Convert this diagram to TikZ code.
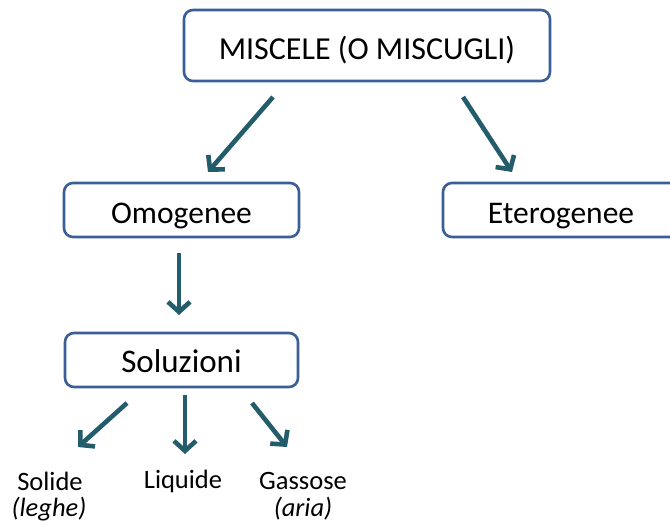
\documentclass[tikz,border=0pt]{standalone}
\usepackage{fontspec}
\setmainfont{Carlito}
\usetikzlibrary{arrows.meta}
\definecolor{boxblue}{HTML}{3A5E96}
\definecolor{arrteal}{HTML}{235C6A}
\tikzset{
  box/.style={draw=boxblue, line width=2.6pt, rounded corners=9pt, fill=white, inner sep=0pt, text depth=0pt},
  leaf/.style={inner sep=0pt, font=\fontsize{26.5}{28}\selectfont, align=center},
  arr/.style={draw=arrteal, line width=4.6pt, -{Straight Barb[length=10pt,width=22pt,line width=4.6pt]}}
}
\begin{document}
\begin{tikzpicture}[x=1pt,y=-1pt]
\useasboundingbox (0,0) rectangle (670,524);
\node[box, minimum width=366pt, minimum height=71pt, text height=29pt, font=\fontsize{32}{36}\selectfont] (mis) at (367,45.5) {MISCELE (O MISCUGLI)};
\node[box, minimum width=235pt, minimum height=54pt, text height=26pt, font=\fontsize{31.5}{36}\selectfont] (omo) at (181.5,210) {Omogenee};
\node[box, minimum width=236pt, minimum height=54pt, text height=26pt, font=\fontsize{31.5}{36}\selectfont] (ete) at (561,210) {Eterogenee};
\node[box, minimum width=233pt, minimum height=54pt, text height=24pt, font=\fontsize{33}{36}\selectfont] (sol) at (181.5,360) {Soluzioni};
\node[leaf] (solide) at (50,481) {Solide};
\node[leaf, font=\fontsize{26.5}{28}\selectfont\itshape] (leghe) at (49,509) {(leghe)};
\node[leaf] (liq) at (183,481) {Liquide};
\node[leaf] (gas) at (303,481) {Gassose};
\node[leaf, font=\fontsize{26.5}{28}\selectfont\itshape] (aria) at (303,509) {(aria)};
\coordinate (a1s) at (273,97);  \coordinate (a1e) at (208,172);
\coordinate (a2s) at (463,97);  \coordinate (a2e) at (512,172);
\coordinate (a3s) at (179,253); \coordinate (a3e) at (179,315);
\coordinate (a4s) at (127,403); \coordinate (a4e) at (78,447);
\coordinate (a5s) at (185,395); \coordinate (a5e) at (185,454);
\coordinate (a6s) at (252,403); \coordinate (a6e) at (287,447);
\draw[arr] (a1s) -- (a1e);
\draw[arr] (a2s) -- (a2e);
\draw[arr] (a3s) -- (a3e);
\draw[arr] (a4s) -- (a4e);
\draw[arr] (a5s) -- (a5e);
\draw[arr] (a6s) -- (a6e);
\end{tikzpicture}
\end{document}
